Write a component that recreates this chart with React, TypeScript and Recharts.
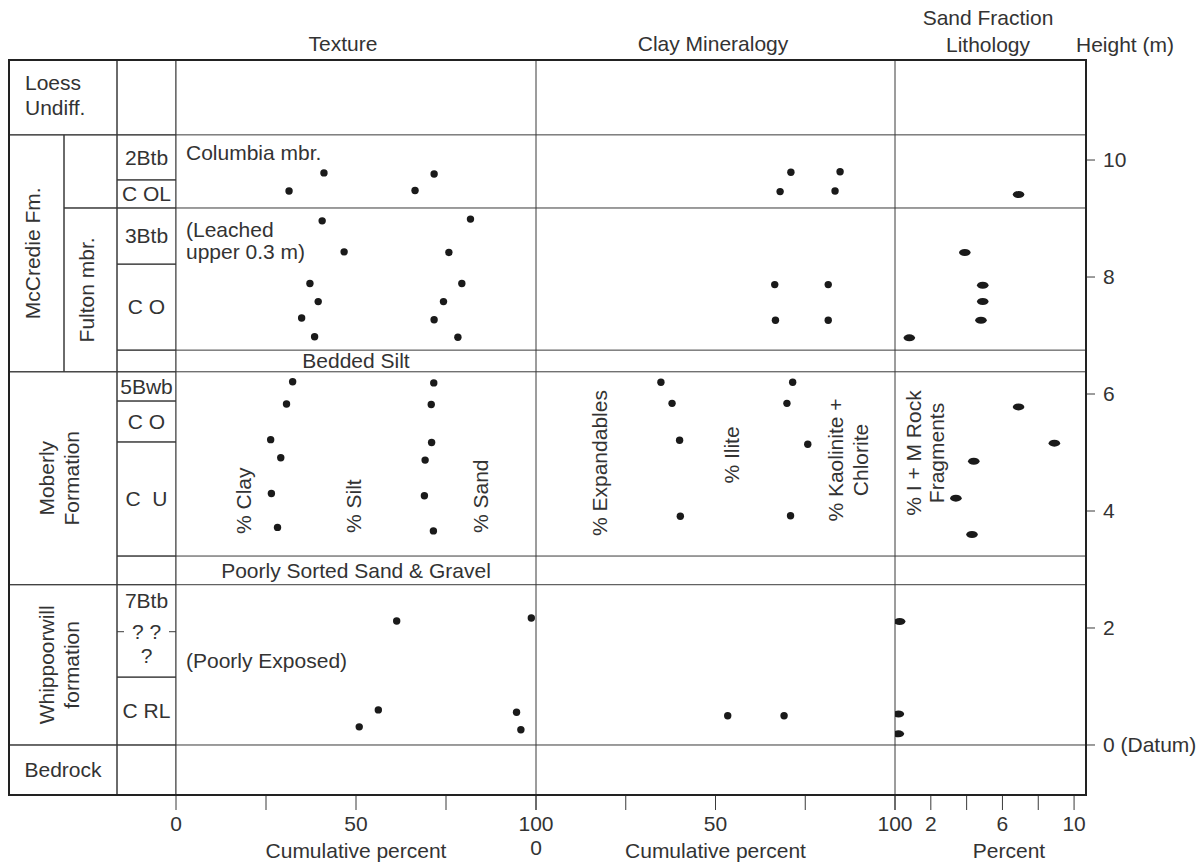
import React from "react";
import { ScatterChart, Scatter, XAxis, YAxis, ReferenceLine, ReferenceArea } from "recharts";

// heights are metres above the datum (top of bedrock)
const clayHeights = [9.78, 9.47, 8.96, 8.43, 7.89, 7.58, 7.3, 6.98, 6.21, 5.83, 5.22, 4.91, 4.3, 3.72, 2.12, 0.6, 0.31];
const clayPct = [41.1, 31.4, 40.6, 46.7, 37.2, 39.5, 34.9, 38.5, 32.4, 30.7, 26.3, 29.1, 26.5, 28.2, 61.3, 56.2, 50.9];
const siltHeights = [9.76, 9.48, 8.99, 8.42, 7.89, 7.58, 7.27, 6.97, 6.19, 5.82, 5.17, 4.87, 4.26, 3.66, 2.17, 0.56, 0.26];
const claySiltPct = [71.7, 66.4, 81.8, 75.8, 79.4, 74.3, 71.7, 78.3, 71.6, 70.9, 71.0, 69.2, 69.0, 71.5, 98.7, 94.6, 95.8];

const expandHeights = [9.79, 9.46, 7.87, 7.26, 6.2, 5.84, 5.21, 3.91, 0.5];
const expandPct = [71.0, 68.0, 66.5, 66.7, 34.8, 37.9, 40.0, 40.2, 53.4];
const illiteHeights = [9.8, 9.47, 7.87, 7.26, 6.2, 5.84, 5.14, 3.92, 0.5];
const expandIllitePct = [84.7, 83.3, 81.4, 81.4, 71.5, 69.9, 75.7, 70.9, 69.1];

const rockHeights = [9.41, 8.42, 7.86, 7.58, 7.26, 6.96, 5.78, 5.16, 4.85, 4.22, 3.6, 2.11, 0.53, 0.19];
const rockPct = [6.9, 3.9, 4.9, 4.9, 4.8, 0.8, 6.9, 8.9, 4.4, 3.4, 4.3, 0.26, 0.19, 0.19];

// unit boundaries drawn across the data panels
const panelBoundaries = [10.43, 9.18, 6.75, 6.38, 3.23, 2.74, 0];
const heightTicks = [0, 2, 4, 6, 8, 10];
const cumTicks = [0, 25, 50, 75, 100];
const sandTicks = [0, 2, 4, 6, 8, 10];

const TOP = 11.71;
const BOTTOM = -0.855;
const heightDomain: [number, number] = [BOTTOM, TOP];

// stratigraphic column: c1/c2 are column indices, y1/y2 heights
type Box = { c1: number; c2: number; y1: number; y2: number; text: string[]; mode: "center" | "rotate" | "topLeft" | "unsure" };
const colEdges = [0, 55, 108, 167];
const stratBoxes: Box[] = [
  { c1: 0, c2: 2, y1: 10.43, y2: TOP, text: ["Loess", "Undiff."], mode: "topLeft" },
  { c1: 2, c2: 3, y1: 10.43, y2: TOP, text: [], mode: "center" },
  { c1: 0, c2: 1, y1: 6.38, y2: 10.43, text: ["McCredie Fm."], mode: "rotate" },
  { c1: 1, c2: 2, y1: 9.18, y2: 10.43, text: [], mode: "center" },
  { c1: 1, c2: 2, y1: 6.38, y2: 9.18, text: ["Fulton mbr."], mode: "rotate" },
  { c1: 2, c2: 3, y1: 9.66, y2: 10.43, text: ["2Btb"], mode: "center" },
  { c1: 2, c2: 3, y1: 9.18, y2: 9.66, text: ["C OL"], mode: "center" },
  { c1: 2, c2: 3, y1: 8.22, y2: 9.18, text: ["3Btb"], mode: "center" },
  { c1: 2, c2: 3, y1: 6.75, y2: 8.22, text: ["C O"], mode: "center" },
  { c1: 2, c2: 3, y1: 6.38, y2: 6.75, text: [], mode: "center" },
  { c1: 0, c2: 2, y1: 2.74, y2: 6.38, text: ["Moberly", "Formation"], mode: "rotate" },
  { c1: 2, c2: 3, y1: 5.88, y2: 6.38, text: ["5Bwb"], mode: "center" },
  { c1: 2, c2: 3, y1: 5.18, y2: 5.88, text: ["C O"], mode: "center" },
  { c1: 2, c2: 3, y1: 3.23, y2: 5.18, text: ["C\u00a0\u00a0U"], mode: "center" },
  { c1: 2, c2: 3, y1: 2.74, y2: 3.23, text: [], mode: "center" },
  { c1: 0, c2: 2, y1: 0, y2: 2.74, text: ["Whippoorwill", "formation"], mode: "rotate" },
  { c1: 2, c2: 3, y1: 1.16, y2: 2.74, text: ["7Btb", "? ?", "?"], mode: "unsure" },
  { c1: 2, c2: 3, y1: 0, y2: 1.16, text: ["C RL"], mode: "center" },
  { c1: 0, c2: 2, y1: BOTTOM, y2: 0, text: ["Bedrock"], mode: "center" },
  { c1: 2, c2: 3, y1: BOTTOM, y2: 0, text: [], mode: "center" },
];

const FONT = '"Liberation Sans", Arial, Helvetica, sans-serif';
const INK = "#333";
const LINE = "#3a3a3a";
const FS = 21;

const toPoints = (hs: number[], vs: number[]) => hs.map((h, i) => ({ h, v: vs[i] }));

const Dot = (p: any) => <circle cx={p.cx} cy={p.cy} r={3.7} fill="#1a1a1a" />;
const Oval = (p: any) => <ellipse cx={p.cx} cy={p.cy} rx={5.8} ry={3.5} fill="#1a1a1a" />;

const T = (props: any) => <text fontFamily={FONT} fontSize={FS} fill={INK} {...props} />;

const Rot = ({ cx, cy, lines, lh = 24, anchor = "middle" }: { cx: number; cy: number; lines: string[]; lh?: number; anchor?: string }) => (
  <T transform={`rotate(-90 ${cx} ${cy})`} textAnchor={anchor}>
    {lines.map((l, i) => (
      <tspan key={i} x={cx} y={cy + (i - (lines.length - 1) / 2) * lh} dy="0.35em">
        {l}
      </tspan>
    ))}
  </T>
);

const boxLabel = (box: Box) => (props: any) => {
  const { x, y, width, height } = props.viewBox;
  const cx = x + width / 2;
  const cy = y + height / 2;
  if (!box.text.length) return null;
  if (box.mode === "rotate") return <Rot cx={cx - 4} cy={cy} lines={box.text} lh={25} />;
  if (box.mode === "topLeft")
    return (
      <T>
        {box.text.map((l, i) => (
          <tspan key={i} x={x + 16} y={y + 30 + i * 25}>
            {l}
          </tspan>
        ))}
      </T>
    );
  if (box.mode === "unsure")
    return (
      <g>
        <T x={cx} y={y + 23} textAnchor="middle">{box.text[0]}</T>
        <line x1={x} x2={x + 7} y1={y + 47} y2={y + 47} stroke={LINE} />
        <line x1={x + width - 7} x2={x + width} y1={y + 47} y2={y + 47} stroke={LINE} />
        <T x={cx} y={y + 54} textAnchor="middle">{box.text[1]}</T>
        <T x={cx} y={y + 78} textAnchor="middle">{box.text[2]}</T>
      </g>
    );
  return (
    <T x={cx} y={cy} dy="0.35em" textAnchor="middle">
      {box.text[0]}
    </T>
  );
};

const makeTick = (labels: Record<number, string>, second: Record<number, string> = {}) => (p: any) => {
  const v = p.payload.value;
  return (
    <g>
      {labels[v] !== undefined && (
        <T x={p.x} y={p.y + 19} textAnchor="middle">
          {labels[v]}
        </T>
      )}
      {second[v] !== undefined && (
        <T x={p.x} y={p.y + 43} textAnchor="middle">
          {second[v]}
        </T>
      )}
    </g>
  );
};

const textureTick = makeTick({ 0: "0", 50: "50", 100: "100" });
const clayTick = makeTick({ 50: "50", 100: "100" }, { 0: "0" });
const sandTick = makeTick({ 2: "2", 6: "6", 10: "10" });

const heightTick = (p: any) => {
  const v = p.payload.value;
  return (
    <T x={p.x} y={p.y} dy="0.35em" textAnchor="start">
      {v === 0 ? "0 (Datum)" : String(v)}
    </T>
  );
};

const axisTitle = (value: string, shift = 0) => (p: any) => {
  const { x, y, width, height } = p.viewBox;
  return (
    <T x={x + width / 2 + shift} y={y + height - 7} textAnchor="middle">
      {value}
    </T>
  );
};

export default function App() {
  const claySeries = toPoints(clayHeights, clayPct);
  const siltSeries = toPoints(siltHeights, claySiltPct);
  const expandSeries = toPoints(expandHeights, expandPct);
  const illiteSeries = toPoints(illiteHeights, expandIllitePct);
  const rockSeries = toPoints(rockHeights, rockPct);

  const hLines = panelBoundaries.map((h) => <ReferenceLine key={"h" + h} y={h} stroke={LINE} />);

  return (
    <div style={{ position: "absolute", left: 0, top: 0, width: 1200, height: 865, background: "#fff", fontFamily: FONT }}>
      {/* stratigraphic column */}
      <div style={{ position: "absolute", left: 9, top: 50 }}>
        <ScatterChart width={167} height={815} margin={{ top: 10, right: 0, bottom: 70, left: 0 }}>
          <XAxis type="number" dataKey="v" domain={[0, 167]} hide allowDataOverflow />
          <YAxis type="number" dataKey="h" domain={heightDomain} hide allowDataOverflow />
          {stratBoxes.map((b, i) => (
            <ReferenceArea
              key={i}
              x1={colEdges[b.c1]}
              x2={colEdges[b.c2]}
              y1={b.y1}
              y2={b.y2}
              fill="#fff"
              fillOpacity={0}
              stroke={LINE}
              strokeOpacity={1}
              label={boxLabel(b)}
            />
          ))}
        </ScatterChart>
      </div>

      {/* texture */}
      <div style={{ position: "absolute", left: 146, top: 50 }}>
        <ScatterChart width={420} height={815} margin={{ top: 10, right: 30, bottom: 0, left: 30 }}>
          <XAxis
            type="number"
            dataKey="v"
            domain={[0, 100]}
            ticks={cumTicks}
            interval={0}
            axisLine={false}
            tickLine={{ stroke: LINE }}
            tickSize={15}
            height={70}
            tick={textureTick}
            label={axisTitle("Cumulative percent")}
            allowDataOverflow
          />
          <YAxis type="number" dataKey="h" domain={heightDomain} hide allowDataOverflow />
          {hLines}
          <ReferenceLine x={0} stroke={LINE} />
          <ReferenceLine x={100} stroke={LINE} />
          <ReferenceArea x1={0} x2={100} y1={6.38} y2={6.75} fillOpacity={0} strokeOpacity={0}
            label={{ value: "Bedded Silt", position: "center", fill: INK, fontSize: FS, fontFamily: FONT }} />
          <ReferenceArea x1={0} x2={100} y1={2.74} y2={3.23} fillOpacity={0} strokeOpacity={0}
            label={{ value: "Poorly Sorted Sand & Gravel", position: "center", fill: INK, fontSize: FS, fontFamily: FONT }} />
          <Scatter data={claySeries} shape={Dot} isAnimationActive={false} />
          <Scatter data={siltSeries} shape={Dot} isAnimationActive={false} />
        </ScatterChart>
      </div>

      {/* clay mineralogy */}
      <div style={{ position: "absolute", left: 506, top: 50 }}>
        <ScatterChart width={419} height={815} margin={{ top: 10, right: 30, bottom: 0, left: 30 }}>
          <XAxis
            type="number"
            dataKey="v"
            domain={[0, 100]}
            ticks={cumTicks}
            interval={0}
            axisLine={false}
            tickLine={{ stroke: LINE }}
            tickSize={15}
            height={70}
            tick={clayTick}
            label={axisTitle("Cumulative percent")}
            allowDataOverflow
          />
          <YAxis type="number" dataKey="h" domain={heightDomain} hide allowDataOverflow />
          {hLines}
          <ReferenceLine x={100} stroke={LINE} />
          <Scatter data={expandSeries} shape={Dot} isAnimationActive={false} />
          <Scatter data={illiteSeries} shape={Dot} isAnimationActive={false} />
        </ScatterChart>
      </div>

      {/* sand fraction lithology + height axis */}
      <div style={{ position: "absolute", left: 865, top: 50 }}>
        <ScatterChart width={335} height={815} margin={{ top: 10, right: 0, bottom: 0, left: 30 }}>
          <XAxis
            type="number"
            dataKey="v"
            domain={[0, 10.61]}
            ticks={sandTicks}
            interval={0}
            axisLine={false}
            tickLine={{ stroke: LINE }}
            tickSize={15}
            height={70}
            tick={sandTick}
            label={axisTitle("Percent", 19)}
            allowDataOverflow
          />
          <YAxis
            type="number"
            dataKey="h"
            orientation="right"
            domain={heightDomain}
            ticks={heightTicks}
            interval={0}
            width={115}
            axisLine={false}
            tickLine={{ stroke: LINE }}
            tickSize={10}
            tickMargin={8}
            tick={heightTick}
            allowDataOverflow
          />
          {hLines}
          <Scatter data={rockSeries} shape={Oval} isAnimationActive={false} />
        </ScatterChart>
      </div>

      {/* outer frame */}
      <div style={{ position: "absolute", left: 8, top: 59, width: 1079, height: 737, border: `2px solid #222`, boxSizing: "border-box", pointerEvents: "none" }} />

      {/* titles and annotations */}
      <svg width={1200} height={865} style={{ position: "absolute", left: 0, top: 0, pointerEvents: "none" }}>
        <T x={343} y={44} dy="0.35em" textAnchor="middle">Texture</T>
        <T x={713} y={44} dy="0.35em" textAnchor="middle">Clay Mineralogy</T>
        <T x={988} y={18} dy="0.35em" textAnchor="middle">Sand Fraction</T>
        <T x={988} y={45} dy="0.35em" textAnchor="middle">Lithology</T>
        <T x={1076} y={45} dy="0.35em">Height (m)</T>
        <T x={186} y={153} dy="0.35em">Columbia mbr.</T>
        <T x={186} y={230} dy="0.35em">(Leached</T>
        <T x={186} y={252} dy="0.35em">upper 0.3 m)</T>
        <T x={186} y={661} dy="0.35em">(Poorly Exposed)</T>
        <Rot cx={244} cy={534} lines={["% Clay"]} anchor="start" />
        <Rot cx={354} cy={533} lines={["% Silt"]} anchor="start" />
        <Rot cx={481} cy={533} lines={["% Sand"]} anchor="start" />
        <Rot cx={600} cy={536} lines={["% Expandables"]} anchor="start" />
        <Rot cx={732} cy={455} lines={["% Ilite"]} />
        <Rot cx={848} cy={460} lines={["% Kaolinite +", "Chlorite"]} lh={25} />
        <Rot cx={925} cy={453} lines={["% I + M Rock", "Fragments"]} lh={23} />
      </svg>
    </div>
  );
}
